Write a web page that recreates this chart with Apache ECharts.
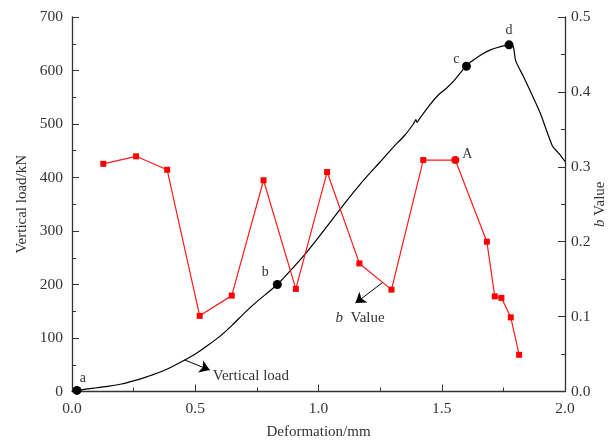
<!DOCTYPE html>
<html>
<head>
<meta charset="utf-8">
<script src="https://cdn.jsdelivr.net/npm/echarts@6/dist/echarts.min.js"></script>
<style>
html,body{margin:0;padding:0;background:#fff;}
#c{width:609px;height:441px;}
</style>
</head>
<body>
<div id="c"></div>
<script>
// Vertical load curve
var loadX = [0,0.05,0.1,0.15,0.2,0.25,0.3,0.35,0.4,0.45,0.5,0.55,0.6,0.65,0.7,0.75,0.8,0.833,0.9,0.95,1.0,1.05,1.1,1.15,1.2,1.25,1.3,1.35,1.385,1.395,1.40,1.41,1.45,1.49,1.517,1.55,1.578,1.6,1.63,1.665,1.7,1.726,1.75,1.773,1.79,1.8,1.83,1.868,1.9,1.949,1.975,2.0];
var loadY = [0,4,7,10,14,20,27,35,45,57,70,86,103,124,147,168,187,200,233,259,288,318,348,377,404,429,455,479,500,508,503,510,535,556,566,581,597,609,620,631,639,643,646,648,645,618,590,553,520,459,445,430];
// b value series
var bX = [0.127,0.260,0.386,0.518,0.648,0.777,0.908,1.035,1.166,1.296,1.425,1.555,1.683,1.715,1.742,1.780,1.814];
var bY = [0.304,0.314,0.296,0.101,0.128,0.282,0.137,0.293,0.171,0.136,0.309,0.309,0.200,0.127,0.125,0.099,0.049];
// key points on load curve
var keyNames = ['a','b','c','d'];
var keyX = [0.02,0.833,1.600,1.773];
var keyY = [2,200,608,648];
// tick labels
var xTicks = ['0.0','0.5','1.0','1.5','2.0'];

var serif = '"Liberation Serif","DejaVu Serif",serif';
var txt = '#333';

var loadData = loadX.map(function(x,i){return [x,loadY[i]];});
var bData = bX.map(function(x,i){
  var d = {value:[x,bY[i]]};
  if (i === 11) { d.symbol = 'circle'; d.symbolSize = 8; d.label = {show:true, formatter:'A', position:'right', offset:[-2,-6], color:txt, fontFamily:serif, fontSize:14}; }
  return d;
});
var keyOffsets = [[6,-12],[-12,-12],[-10,-7],[0,-14]];
var keyData = keyX.map(function(x,i){
  return {value:[x,keyY[i]], label:{show:true, formatter:keyNames[i], position:'inside', offset:keyOffsets[i], color:txt, fontFamily:serif, fontSize:14}};
});

var axisLine = {show:true, lineStyle:{color:'#333', width:1.3}};
var chart = echarts.init(document.getElementById('c'));
chart.setOption({
  animation:false,
  backgroundColor:'#fff',
  grid:{left:72, right:44, top:17, bottom:49.5, containLabel:false, outerBoundsMode:'none'},
  xAxis:{
    type:'value', min:0, max:2, interval:0.5,
    name:'Deformation/mm', nameLocation:'middle', nameGap:33, nameMoveOverlap:false,
    nameTextStyle:{color:txt, fontFamily:serif, fontSize:15},
    axisLine:axisLine,
    axisTick:{show:true, inside:true, length:7, lineStyle:{color:'#333'}},
    minorTick:{show:true, splitNumber:2, length:4, lineStyle:{color:'#333'}},
    splitLine:{show:false},
    axisLabel:{color:txt, fontFamily:serif, fontSize:15.5, margin:9, formatter:function(v){var i=Math.round(v/0.5);return xTicks[i]!==undefined?xTicks[i]:v.toFixed(1);}}
  },
  yAxis:[{
    type:'value', min:0, max:700, interval:100, position:'left',
    name:'Vertical load/kN', nameLocation:'middle', nameGap:42, nameRotate:90, nameMoveOverlap:false,
    nameTextStyle:{color:txt, fontFamily:serif, fontSize:15},
    axisLine:axisLine,
    axisTick:{show:true, inside:true, length:7, lineStyle:{color:'#333'}},
    minorTick:{show:true, splitNumber:2, length:4, lineStyle:{color:'#333'}},
    splitLine:{show:false},
    axisLabel:{color:txt, fontFamily:serif, fontSize:15.5, margin:9}
  },{
    type:'value', min:0, max:0.5, interval:0.1, position:'right',
    name:'{i|b} Value', nameLocation:'middle', nameGap:28, nameRotate:90, nameMoveOverlap:false,
    nameTextStyle:{color:txt, fontFamily:serif, fontSize:15, rich:{i:{fontStyle:'italic', fontFamily:serif, fontSize:15, color:txt}}},
    axisLine:axisLine,
    axisTick:{show:true, inside:true, length:7, lineStyle:{color:'#333'}},
    minorTick:{show:true, splitNumber:2, length:4, lineStyle:{color:'#333'}},
    splitLine:{show:false},
    axisLabel:{color:txt, fontFamily:serif, fontSize:15.5, margin:6, formatter:function(v){return v.toFixed(1);}}
  }],
  series:[{
    type:'line', name:'Vertical load', xAxisIndex:0, yAxisIndex:0,
    data:loadData, showSymbol:false, symbol:'none', smooth:0.2,
    lineStyle:{color:'#000', width:1.2}, z:3,
    markLine:{
      silent:true, symbol:['none','arrow'], symbolSize:10,
      lineStyle:{color:'#000', width:1, type:'solid'}, itemStyle:{color:'#000'}, label:{show:false},
      data:[[{coord:[0.457,59]},{coord:[0.559,40]}]]
    },
    markPoint:{
      symbol:'circle', symbolSize:0,
      data:[{coord:[0.571,29], label:{show:true, formatter:'Vertical load', position:'right', offset:[-5,0], color:txt, fontFamily:serif, fontSize:15}}]
    }
  },{
    type:'scatter', name:'key', xAxisIndex:0, yAxisIndex:0,
    data:keyData, symbol:'circle', symbolSize:9, itemStyle:{color:'#000', opacity:1}, z:5
  },{
    type:'line', name:'b Value', xAxisIndex:0, yAxisIndex:1,
    data:bData, symbol:'rect', symbolSize:6, showAllSymbol:true,
    lineStyle:{color:'#ff1a1a', width:1.2}, itemStyle:{color:'#ff0000'}, z:4,
    markLine:{
      silent:true, symbol:['none','arrow'], symbolSize:10,
      lineStyle:{color:'#000', width:1, type:'solid'}, itemStyle:{color:'#000'}, label:{show:false},
      data:[[{coord:[1.260,0.1455]},{coord:[1.150,0.118]}]]
    },
    markPoint:{
      symbol:'circle', symbolSize:0,
      data:[{coord:[1.069,0.098], label:{show:true, formatter:'{i|b}  Value', position:'right', offset:[-5,0], color:txt, fontFamily:serif, fontSize:15, rich:{i:{fontStyle:'italic', fontFamily:serif, fontSize:15, color:txt}}}}]
    }
  }]
});
</script>
</body>
</html>
